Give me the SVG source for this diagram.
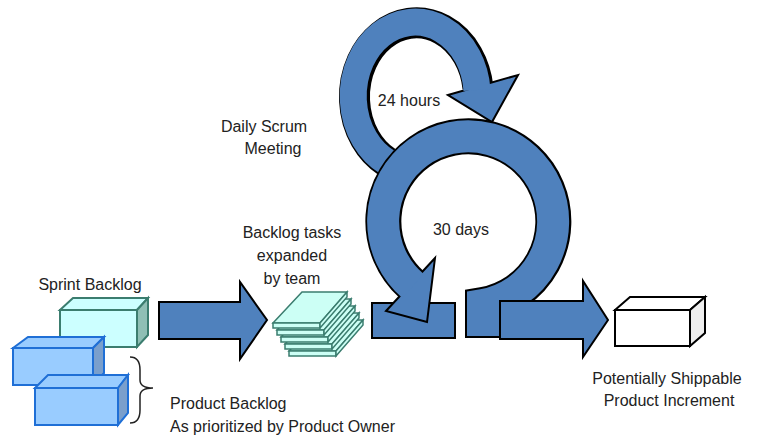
<svg xmlns="http://www.w3.org/2000/svg" width="761" height="443" viewBox="0 0 761 443">
<style>
text{font-family:"Liberation Sans",Arial,sans-serif;font-size:16px;fill:#222;text-anchor:middle}
.blk{fill:none;stroke:#000;stroke-linecap:butt}
.blu{fill:none;stroke:#4f81bd;stroke-linecap:butt}
.bf{fill:#4f81bd;stroke:#000;stroke-width:2;stroke-linejoin:miter}
.cy{fill:#ccffff;stroke:#3b7d6f;stroke-width:2}
.cys{fill:#8fbfb5;stroke:#3b7d6f;stroke-width:2}
.pb{fill:#99ccff;stroke:#1f6fd6;stroke-width:2}
.pbs{fill:#7a9fcc;stroke:#1f6fd6;stroke-width:2}
.sl{fill:#ccfff5;stroke:#3b7d6f;stroke-width:1.5}
</style>
<g id="connectors">
<g id="loop24">
<path class="blk" stroke-width="31" d="M387,162 A62,74 0 1 1 478,88"/>
<polygon class="bf" points="448,95 518,75 492,122"/>
<path class="blu" stroke-width="27" d="M387,162 A62,74 0 1 1 477,90"/>
</g>
<rect class="bf" x="372" y="303" width="83" height="35"/>
<g id="loop30">
<path class="blk" stroke-width="36" d="M483,338 L483,305 A85,85 0 1 0 411,284"/>
<polygon class="bf" points="386,311 435,258 427,322"/>
<path class="blu" stroke-width="32" d="M483,336 L483,305 A85,85 0 1 0 413,286"/>
</g>
<polygon class="bf" points="159,302 240,302 240,282 267,320 240,359 240,339 159,339"/>
<polygon class="bf" points="500,301 583,301 583,281 608,320 583,357 583,339 500,339"/>
</g>
<g id="sprint-backlog">
<polygon class="cy" points="60,310 73,298 148,298 137,310"/>
<polygon class="cys" points="137,310 148,298 148,335 137,347"/>
<rect class="cy" x="60" y="310" width="77" height="37"/>
</g>
<g id="product-backlog">
<polygon class="pb" points="13,348 28,337 104,337 93,348"/>
<polygon class="pbs" points="93,348 104,337 104,373 93,385"/>
<rect class="pb" x="13" y="348" width="80" height="37"/>
<polygon class="pb" points="35,388 48,375 128,375 118,388"/>
<polygon class="pbs" points="118,388 128,375 128,413 118,425"/>
<rect class="pb" x="35" y="388" width="83" height="37"/>
<path d="M130,357 Q140,357 140,370 L140,380 Q140,388 153,388 Q140,388 140,396 L140,410 Q140,423 130,423" fill="none" stroke="#222" stroke-width="1.5"/>
</g>
<g id="tasks">
<g transform="translate(16,28)"><polygon class="sl" points="273,323 320,323 347,292 302,292"/><polygon class="sl" points="273,323 320,323 320,328 273,328"/><polygon class="sl" points="320,323 347,292 347,297 320,328"/></g>
<g transform="translate(12,21)"><polygon class="sl" points="273,323 320,323 347,292 302,292"/><polygon class="sl" points="273,323 320,323 320,328 273,328"/><polygon class="sl" points="320,323 347,292 347,297 320,328"/></g>
<g transform="translate(8,14)"><polygon class="sl" points="273,323 320,323 347,292 302,292"/><polygon class="sl" points="273,323 320,323 320,328 273,328"/><polygon class="sl" points="320,323 347,292 347,297 320,328"/></g>
<g transform="translate(4,7)"><polygon class="sl" points="273,323 320,323 347,292 302,292"/><polygon class="sl" points="273,323 320,323 320,328 273,328"/><polygon class="sl" points="320,323 347,292 347,297 320,328"/></g>
<g><polygon class="sl" points="273,323 320,323 347,292 302,292"/><polygon class="sl" points="273,323 320,323 320,328 273,328"/><polygon class="sl" points="320,323 347,292 347,297 320,328"/></g>
</g>
<g id="increment">
<polygon points="615,310 630,297 705,297 690,310" fill="#fff" stroke="#000" stroke-width="2"/>
<polygon points="690,310 705,297 705,333 690,346" fill="#eee" stroke="#000" stroke-width="2"/>
<rect x="615" y="310" width="75" height="36" fill="#fff" stroke="#000" stroke-width="2"/>
</g>
<g id="labels">
<text x="264" y="132">Daily Scrum</text>
<text x="273" y="154">Meeting</text>
<text x="409" y="106">24 hours</text>
<text x="461" y="235">30 days</text>
<text x="292" y="238">Backlog tasks</text>
<text x="292" y="261">expanded</text>
<text x="292" y="284">by team</text>
<text x="90" y="290">Sprint Backlog</text>
<text x="170" y="409" style="text-anchor:start">Product Backlog</text>
<text x="170" y="432" style="text-anchor:start">As prioritized by Product Owner</text>
<text x="667" y="384">Potentially Shippable</text>
<text x="669" y="406">Product Increment</text>
</g>
</svg>
